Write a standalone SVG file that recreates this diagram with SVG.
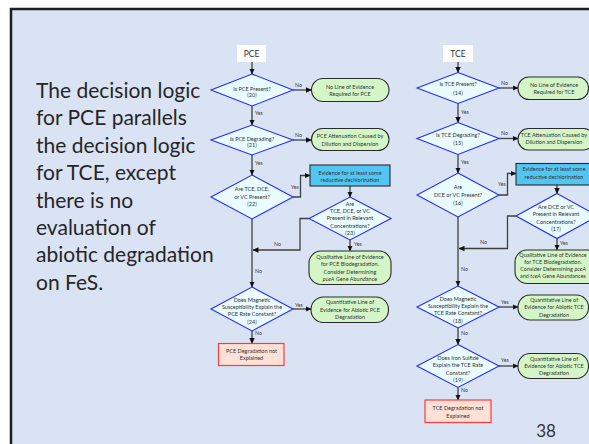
<svg xmlns="http://www.w3.org/2000/svg" width="589" height="444" viewBox="0 0 589 444">
  <style>
    .panel { fill: #dae3f3; stroke: #1e1e1e; stroke-width: 2.5; }
    .dia { fill: #eafcff; stroke: #1f2bff; stroke-width: 1.1; }
    .term { fill: #d4f6c6; stroke: #2a2a2a; stroke-width: 1.1; }
    .evid { fill: #52c6f2; stroke: #2a2a2a; stroke-width: 1.1; }
    .fail { fill: #fde1d7; stroke: #ff3b3b; stroke-width: 1.2; }
    .tag { fill: #ffffff; }
    .t { font-family: Lato, "Liberation Sans", sans-serif; font-size: 5.5px; fill: #333333; text-anchor: middle; }
    .lbl { font-family: Lato, "Liberation Sans", sans-serif; font-size: 5.3px; fill: #404040; }
    .hdr { font-family: Lato, "Liberation Sans", sans-serif; font-size: 8.5px; fill: #333333; text-anchor: middle; }
    .body { font-family: Lato, "Liberation Sans", sans-serif; font-size: 21px; fill: #262626; }
    .num { font-family: Lato, "Liberation Sans", sans-serif; font-size: 17px; fill: #333333; text-anchor: middle; }
    .wire { fill: none; stroke: #404040; stroke-width: 1.3; marker-end: url(#arrow); }
  </style>
  <defs>
    <marker id="arrow" markerUnits="userSpaceOnUse" markerWidth="6" markerHeight="6" viewBox="0 0 6 6" refX="5.5" refY="3" orient="auto">
      <path d="M0,0.3 L6,3 L0,5.7 Z" fill="#111111"/>
    </marker>
  </defs>

  <!-- slide background -->
  <rect x="0" y="0" width="589" height="444" fill="#ffffff"/>
  <rect class="panel" x="11" y="9" width="600" height="460"/>

  <!-- explanatory text -->
  <g id="intro">
    <text class="body" x="36" y="98">The decision logic</text>
    <text class="body" x="36" y="125.4">for PCE parallels</text>
    <text class="body" x="36" y="152.8">the decision logic</text>
    <text class="body" x="36" y="180.2">for TCE, except</text>
    <text class="body" x="36" y="207.6">there is no</text>
    <text class="body" x="36" y="235">evaluation of</text>
    <text class="body" x="36" y="262.4">abiotic degradation</text>
    <text class="body" x="36" y="289.8">on FeS.</text>
  </g>
  <text class="num" x="546" y="437">38</text>

  <!-- connectors -->
  <g id="connectors">
    <!-- PCE branch -->
    <path class="wire" d="M252,62 V74"/>
    <path class="wire" d="M293,90 H311.5"/>
    <path class="wire" d="M252,106 V125"/>
    <path class="wire" d="M293,140 H311.5"/>
    <path class="wire" d="M252,155 V175"/>
    <path class="wire" d="M293,197 H300.5 V175.5 H310"/>
    <path class="wire" d="M350,186 V197"/>
    <path class="wire" d="M350,240 V251"/>
    <path class="wire" d="M309,218.5 H300 V250 H253"/>
    <path class="wire" d="M252,219 V287"/>
    <path class="wire" d="M293,309 H311"/>
    <path class="wire" d="M252,331 V343.5"/>
    <text class="lbl" x="295" y="87">No</text>
    <text class="lbl" x="255" y="115">Yes</text>
    <text class="lbl" x="295" y="137">No</text>
    <text class="lbl" x="255" y="165">Yes</text>
    <text class="lbl" x="291" y="188.5">Yes</text>
    <text class="lbl" x="354" y="246">Yes</text>
    <text class="lbl" x="274" y="246">No</text>
    <text class="lbl" x="255" y="273">No</text>
    <text class="lbl" x="295" y="307">Yes</text>
    <text class="lbl" x="255" y="335">No</text>

    <!-- TCE branch -->
    <path class="wire" d="M458,62 V72.5"/>
    <path class="wire" d="M499,88 H518"/>
    <path class="wire" d="M458,103.5 V122.5"/>
    <path class="wire" d="M499,138.5 H518"/>
    <path class="wire" d="M458,154.5 V173"/>
    <path class="wire" d="M499,195 H507.5 V173.5 H516"/>
    <path class="wire" d="M557,185 V193.5"/>
    <path class="wire" d="M557,238.5 V250"/>
    <path class="wire" d="M516,216 H507.5 V248.5 H459"/>
    <path class="wire" d="M458,217 V286"/>
    <path class="wire" d="M499,307 H518"/>
    <path class="wire" d="M458,328 V344.5"/>
    <path class="wire" d="M499,366 H518"/>
    <path class="wire" d="M458,387.5 V400"/>
    <text class="lbl" x="501" y="85">No</text>
    <text class="lbl" x="461" y="113.5">Yes</text>
    <text class="lbl" x="501" y="134.5">No</text>
    <text class="lbl" x="461" y="163.5">Yes</text>
    <text class="lbl" x="498" y="185.5">Yes</text>
    <text class="lbl" x="560" y="244.5">Yes</text>
    <text class="lbl" x="480" y="243.5">No</text>
    <text class="lbl" x="461" y="271">No</text>
    <text class="lbl" x="501" y="303.5">Yes</text>
    <text class="lbl" x="461" y="335">No</text>
    <text class="lbl" x="501" y="361.5">Yes</text>
    <text class="lbl" x="461" y="392">No</text>
  </g>

  <!-- PCE decision tree -->
  <g id="pce-title">
    <rect class="tag" x="237" y="45" width="29" height="17"/>
    <text class="hdr" x="251.5" y="56.5">PCE</text>
  </g>
  <g id="pce-present">
    <polygon class="dia" points="252,74 293,90 252,106 211,90"/>
    <text class="t" x="252" y="91">Is PCE Present?</text>
    <text class="t" x="252" y="96.5">(20)</text>
  </g>
  <g id="pce-no-evidence">
    <rect class="term" x="311.5" y="78.5" width="77.5" height="23" rx="11.5"/>
    <text class="t" x="350" y="88.6">No Line of Evidence</text>
    <text class="t" x="350" y="95.6">Required for PCE</text>
  </g>
  <g id="pce-degrading">
    <polygon class="dia" points="252,125 293,140 252,155 211,140"/>
    <text class="t" x="252" y="140.6">Is PCE Degrading?</text>
    <text class="t" x="252" y="147">(21)</text>
  </g>
  <g id="pce-attenuation">
    <rect class="term" x="311.5" y="128.5" width="77.5" height="22" rx="11"/>
    <text class="t" x="350" y="138.2">PCE Attenuation Caused by</text>
    <text class="t" x="350" y="145.8">Dilution and Dispersion</text>
  </g>
  <g id="pce-daughters">
    <polygon class="dia" points="252,175 293,197 252,219 211,197"/>
    <text class="t" x="252" y="191.2">Are TCE, DCE,</text>
    <text class="t" x="252" y="198.6">or VC Present?</text>
    <text class="t" x="252" y="206">(22)</text>
  </g>
  <g id="pce-reductive">
    <rect class="evid" x="310" y="165" width="80" height="21"/>
    <text class="t" x="350" y="174.6">Evidence for at least some</text>
    <text class="t" x="350" y="182">reductive dechlorination</text>
  </g>
  <g id="pce-relevant">
    <polygon class="dia" points="350,197 391,218.5 350,240 309,218.5"/>
    <text class="t" x="350" y="206.2">Are</text>
    <text class="t" x="350" y="213">TCE, DCE, or VC</text>
    <text class="t" x="350" y="220.2">Present in Relevant</text>
    <text class="t" x="350" y="227.6">Concentrations?</text>
    <text class="t" x="350" y="234.6">(23)</text>
  </g>
  <g id="pce-qualitative">
    <rect class="term" x="309" y="251" width="82" height="33.5" rx="12"/>
    <text class="t" x="350" y="259.2">Qualitative Line of Evidence</text>
    <text class="t" x="350" y="266.2">for PCE Biodegradation.</text>
    <text class="t" x="350" y="273.6">Consider Determining</text>
    <text class="t" x="350" y="280.6"><tspan font-style="italic">pceA</tspan> Gene Abundance</text>
  </g>
  <g id="pce-magnetic">
    <polygon class="dia" points="252,287 293,309 252,331 211,309"/>
    <text class="t" x="252" y="302">Does Magnetic</text>
    <text class="t" x="252" y="308.6">Susceptibility Explain the</text>
    <text class="t" x="252" y="316.2">PCE Rate Constant?</text>
    <text class="t" x="252" y="323.6">(24)</text>
  </g>
  <g id="pce-abiotic">
    <rect class="term" x="311" y="297" width="77.5" height="25.5" rx="12.5"/>
    <text class="t" x="350" y="304.2">Quantitative Line of</text>
    <text class="t" x="350" y="311.9">Evidence for Abiotic PCE</text>
    <text class="t" x="350" y="319.2">Degradation</text>
  </g>
  <g id="pce-unexplained">
    <rect class="fail" x="218.5" y="343.5" width="65.5" height="22"/>
    <text class="t" x="251.5" y="352.9">PCE Degradation not</text>
    <text class="t" x="251.5" y="360.2">Explained</text>
  </g>

  <!-- TCE decision tree -->
  <g id="tce-title">
    <rect class="tag" x="443" y="45" width="30" height="17"/>
    <text class="hdr" x="458" y="56.5">TCE</text>
  </g>
  <g id="tce-present">
    <polygon class="dia" points="458,72.5 499,88 458,103.5 417,88"/>
    <text class="t" x="458" y="86.2">Is TCE Present?</text>
    <text class="t" x="458" y="94.6">(14)</text>
  </g>
  <g id="tce-no-evidence">
    <rect class="term" x="518" y="77" width="70.5" height="22.5" rx="11"/>
    <text class="t" x="554" y="86.9">No Line of Evidence</text>
    <text class="t" x="554" y="93.9">Required for TCE</text>
  </g>
  <g id="tce-degrading">
    <polygon class="dia" points="458,122.5 499,138.5 458,154.5 417,138.5"/>
    <text class="t" x="458" y="137.2">Is TCE Degrading?</text>
    <text class="t" x="458" y="144.6">(15)</text>
  </g>
  <g id="tce-attenuation">
    <rect class="term" x="518" y="128.5" width="76" height="21.5" rx="10.5"/>
    <text class="t" x="554" y="136.9">TCE Attenuation Caused by</text>
    <text class="t" x="554" y="143.9">Dilution and Dispersion</text>
  </g>
  <g id="tce-daughters">
    <polygon class="dia" points="458,173 499,195 458,217 417,195"/>
    <text class="t" x="458" y="189.2">Are</text>
    <text class="t" x="458" y="196.9">DCE or VC Present?</text>
    <text class="t" x="458" y="205.2">(16)</text>
  </g>
  <g id="tce-reductive">
    <rect class="evid" x="516" y="163.5" width="78" height="21.5"/>
    <text class="t" x="554" y="171.2">Evidence for at least some</text>
    <text class="t" x="554" y="179.2">reductive dechlorination</text>
  </g>
  <g id="tce-relevant">
    <polygon class="dia" points="557,193.5 598,216 557,238.5 516,216"/>
    <text class="t" x="556" y="208.6">Are DCE or VC</text>
    <text class="t" x="556" y="215.9">Present in Relevant</text>
    <text class="t" x="556" y="223.6">Concentrations?</text>
    <text class="t" x="556" y="230.9">(17)</text>
  </g>
  <g id="tce-qualitative">
    <rect class="term" x="515" y="250" width="84" height="33.5" rx="12"/>
    <text class="t" x="553" y="256.9">Qualitative Line of Evidence</text>
    <text class="t" x="553" y="263.6">for TCE Biodegradation.</text>
    <text class="t" x="553" y="270.9">Consider Determining <tspan font-style="italic">pceA</tspan></text>
    <text class="t" x="553" y="277.9">and <tspan font-style="italic">tceA</tspan> Gene Abundances</text>
  </g>
  <g id="tce-magnetic">
    <polygon class="dia" points="458,286 499,307 458,328 417,307"/>
    <text class="t" x="458" y="301.2">Does Magnetic</text>
    <text class="t" x="458" y="307.9">Susceptibility Explain the</text>
    <text class="t" x="458" y="315.2">TCE Rate Constant?</text>
    <text class="t" x="458" y="322.9">(18)</text>
  </g>
  <g id="tce-abiotic-magnetic">
    <rect class="term" x="518" y="295" width="70.5" height="25" rx="12"/>
    <text class="t" x="554" y="301.9">Quantitative Line of</text>
    <text class="t" x="554" y="309.2">Evidence for Abiotic TCE</text>
    <text class="t" x="554" y="316.9">Degradation</text>
  </g>
  <g id="tce-iron-sulfide">
    <polygon class="dia" points="458,344.5 499,366 458,387.5 417,366"/>
    <text class="t" x="458" y="359.6">Does Iron Sulfide</text>
    <text class="t" x="458" y="366.9">Explain the TCE Rate</text>
    <text class="t" x="458" y="374.6">Constant?</text>
    <text class="t" x="458" y="381.9">(19)</text>
  </g>
  <g id="tce-abiotic-fes">
    <rect class="term" x="518" y="353.5" width="70.5" height="25" rx="12"/>
    <text class="t" x="554" y="360.9">Quantitative Line of</text>
    <text class="t" x="554" y="367.9">Evidence for Abiotic TCE</text>
    <text class="t" x="554" y="375.2">Degradation</text>
  </g>
  <g id="tce-unexplained">
    <rect class="fail" x="425" y="400" width="66" height="22.5"/>
    <text class="t" x="458" y="410.2">TCE Degradation not</text>
    <text class="t" x="458" y="417.6">Explained</text>
  </g>
</svg>
